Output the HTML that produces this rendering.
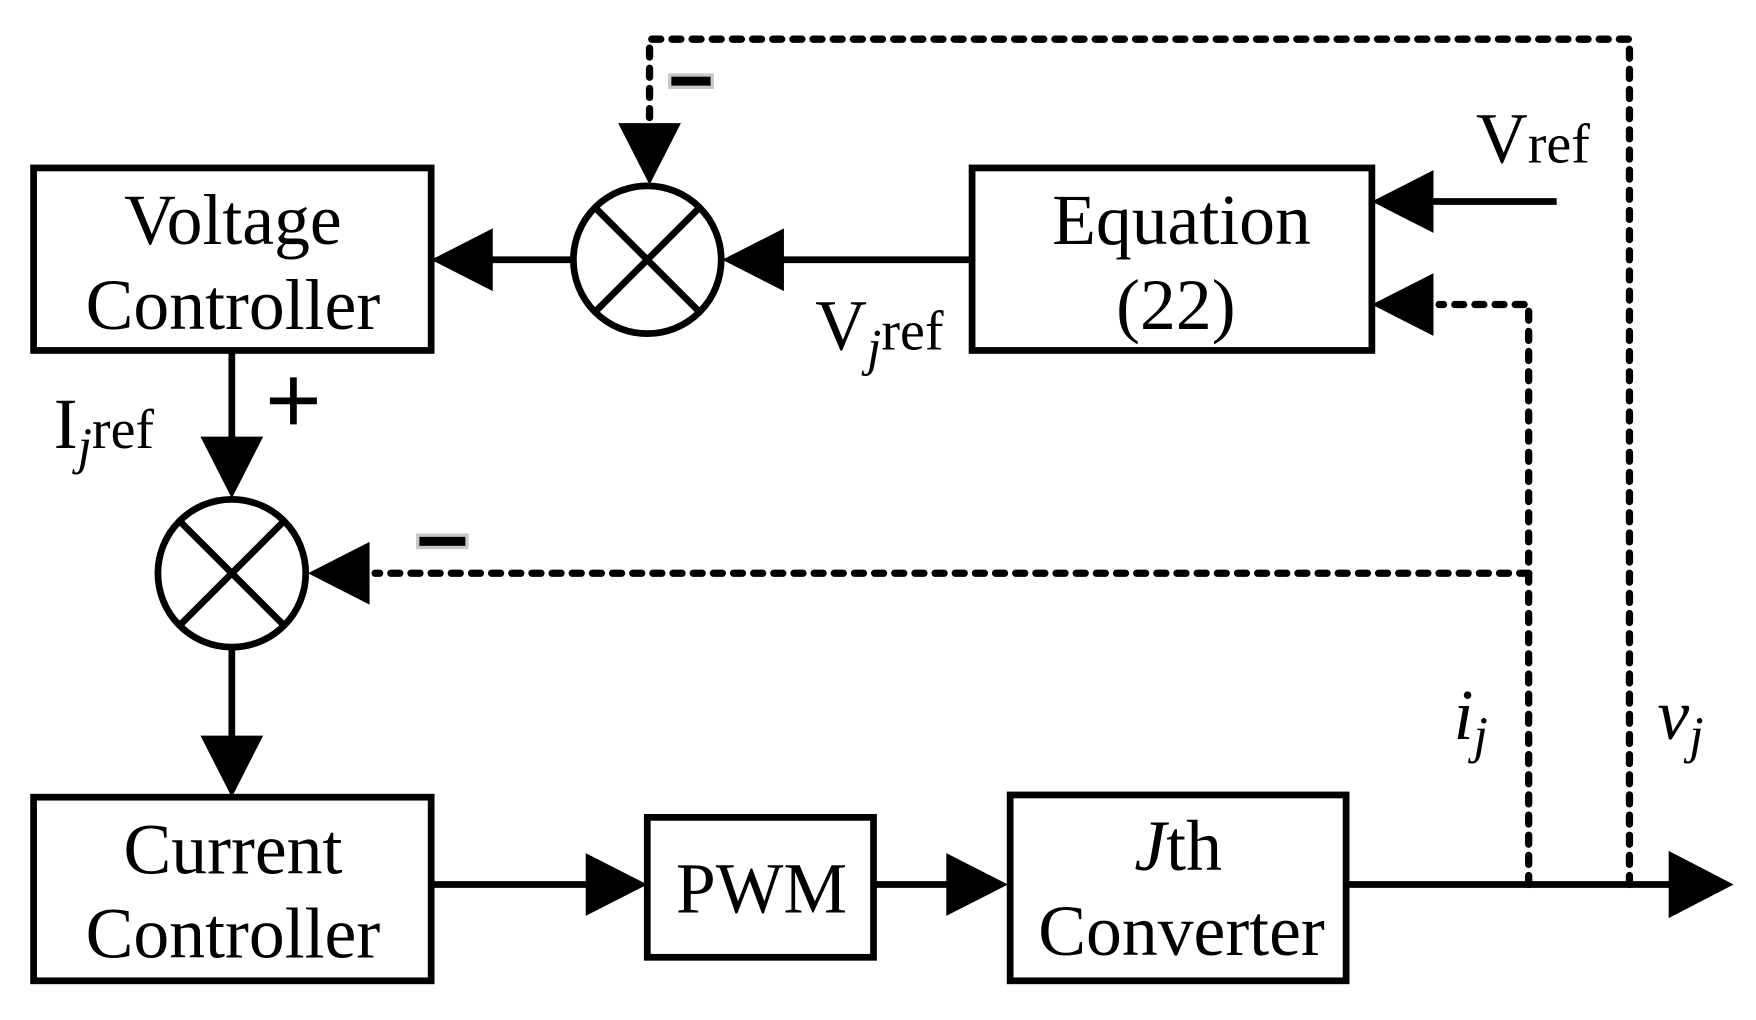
<!DOCTYPE html>
<html><head><meta charset="utf-8"><style>html,body{margin:0;padding:0;background:#fff}svg{display:block}</style></head>
<body>
<svg width="1756" height="1020" viewBox="0 0 1568 911" preserveAspectRatio="none" xmlns="http://www.w3.org/2000/svg" font-family="'Liberation Serif', serif">
<g fill="none" stroke="#000" stroke-width="6">
<rect x="30" y="150" width="355" height="163"/>
<rect x="868" y="150" width="357" height="163"/>
<rect x="30" y="712" width="355" height="164"/>
<rect x="578" y="730" width="202" height="125"/>
<rect x="902" y="710" width="300" height="166"/>
<circle cx="578" cy="232" r="66"/>
<circle cx="207" cy="512" r="66"/>
<line x1="531" y1="185" x2="625" y2="279"/><line x1="625" y1="185" x2="531" y2="279"/>
<line x1="160" y1="465" x2="254" y2="559"/><line x1="254" y1="465" x2="160" y2="559"/>
<line x1="868" y1="232" x2="690" y2="232"/>
<line x1="512" y1="232" x2="430" y2="232"/>
<line x1="1390" y1="180" x2="1270" y2="180"/>
<line x1="207" y1="313" x2="207" y2="400"/>
<line x1="207" y1="578" x2="207" y2="660"/>
<line x1="385" y1="790" x2="530" y2="790"/>
<line x1="780" y1="790" x2="850" y2="790"/>
<line x1="1202" y1="790" x2="1495" y2="790"/>
</g>
<g fill="none" stroke="#000" stroke-width="6.5" stroke-dasharray="8 10" stroke-linecap="round">
<polyline points="1365,790 1365,272 1285,272"/>
<polyline points="1365,512 335,512"/>
<polyline points="1455,790 1455,35 580,35 580,112"/>
</g>
<g fill="#000">
<polygon points="645,232 700,204 700,260"/>
<polygon points="385,232 440,204 440,260"/>
<polygon points="1225,180 1280,152 1280,208"/>
<polygon points="1225,272 1280,244 1280,300"/>
<polygon points="580,165 552,110 608,110"/>
<polygon points="207,445 179,390 235,390"/>
<polygon points="275,512 330,484 330,540"/>
<polygon points="207,712 179,657 235,657"/>
<polygon points="578,790 523,762 523,818"/>
<polygon points="900,790 845,762 845,818"/>
<polygon points="1548,790 1490,760 1490,820"/>
</g>
<rect x="598" y="67" width="38" height="11" fill="#000" stroke="#c8c8c8" stroke-width="3"/>
<rect x="373" y="478" width="44" height="11" fill="#000" stroke="#c8c8c8" stroke-width="3"/>
<g stroke="#000" stroke-width="6"><line x1="241" y1="358" x2="283" y2="358"/><line x1="262" y1="337" x2="262" y2="379"/></g>
<g font-size="64" text-anchor="middle" fill="#000">
<text x="208" y="218">Voltage</text>
<text x="208" y="294">Controller</text>
<text x="1055" y="218">Equation</text>
<text x="1050" y="294">(22)</text>
<text x="208" y="780">Current</text>
<text x="208" y="855">Controller</text>
<text x="680" y="815">PWM</text>
<text x="1052" y="777"><tspan font-style="italic">J</tspan>th</text>
<text x="1055" y="853">Converter</text>
</g>
<g font-size="64" fill="#000">
<text x="728" y="312">V<tspan font-style="italic" font-size="46" dy="14">j</tspan><tspan font-size="50" dy="-14">ref</tspan></text>
<text x="1318" y="145">V<tspan font-size="50">ref</tspan></text>
<text x="48" y="400">I<tspan font-style="italic" font-size="46" dy="14">j</tspan><tspan font-size="50" dy="-14">ref</tspan></text>
<text x="1298" y="660" font-style="italic">i<tspan font-size="46" dy="12">j</tspan></text>
<text x="1480" y="660" font-style="italic">v<tspan font-size="46" dy="12">j</tspan></text>
</g>
</svg>
</body></html>
